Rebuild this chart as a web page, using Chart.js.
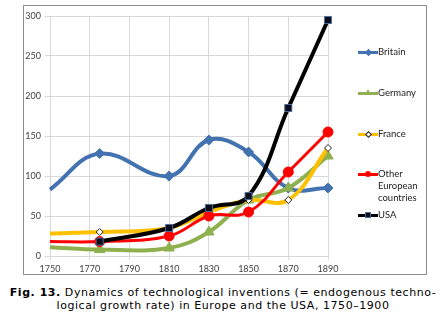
<!DOCTYPE html>
<html>
<head>
<meta charset="utf-8">
<script src="https://cdn.jsdelivr.net/npm/chart.js@4"></script>
<style>
  html, body { margin: 0; padding: 0; background: #fff; }
  body { width: 446px; height: 326px; position: relative; overflow: hidden; }
  #frame {
    position: absolute; left: 23px; top: 5px; width: 402px; height: 268px;
    border: 1px solid #8c8c8c;
  }
  #chart { display: block; }
  .legend { position: absolute; left: 334px; top: 0; font: 9.5px Lato, sans-serif; color: #222; }
  .legend .item { position: absolute; left: 0; white-space: nowrap; }
  .legend .swatch { position: absolute; left: 0; width: 20px; height: 3px; }
  .legend .mark { position: absolute; box-sizing: border-box; }
  .legend .label { position: absolute; left: 20px; line-height: 12px; }
  #caption {
    position: absolute; left: 0; top: 286px; width: 446px; text-align: center;
    font: 11px "DejaVu Sans", Verdana, sans-serif; letter-spacing: 0.55px; line-height: 13px; color: #000;
  }
</style>
</head>
<body>
<div id="frame">
  <canvas id="chart" width="402" height="268"></canvas>
  <div class="legend" id="legend"></div>
</div>
<div id="caption"><b>Fig. 13.</b> Dynamics of technological inventions (= endogenous techno-<br>logical growth rate) in Europe and the USA, 1750–1900</div>
<script>
// years with observations (1750 is the left edge, marker not shown)
const years = [1750, 1775, 1810, 1830, 1850, 1870, 1890];
const usaYears = [1775, 1810, 1830, 1850, 1870, 1890];

const britain = [83, 128, 100, 145, 130, 85, 85];
const germany = [11, 8, 10, 30, 70, 85, 125];
const france = [28, 30, 35, 55, 70, 70, 135];
const otherEurope = [18, 18, 25, 50, 55, 105, 155];
const usa = [18, 35, 60, 75, 185, 295];

const xTicks = [1750, 1770, 1790, 1810, 1830, 1850, 1870, 1890];
const yTicks = [0, 50, 100, 150, 200, 250, 300];

const byId = (id) => document.getElementById(id);

const toPoints = (xs, ys) => xs.map((x, i) => ({ x, y: ys[i] }));
// hide the marker on the 1750 edge point
const edgeRadius = (r) => years.map((y) => (y === 1750 ? 0 : r));

const series = [
  { label: "Britain", data: toPoints(years, britain), color: "#4372b0", width: 4, style: "rectRot", radius: edgeRadius(5), fill: "#4372b0", border: "#4372b0", order: 5 },
  { label: "Germany", data: toPoints(years, germany), color: "#8fb04f", width: 4, style: "triangle", radius: edgeRadius(6), fill: "#8fb04f", border: "#8fb04f", order: 4 },
  { label: "France", data: toPoints(years, france), color: "#ffc000", width: 4, style: "rectRot", radius: edgeRadius(3.5), fill: "#ffffff", border: "#222222", order: 3 },
  { label: "Other European countries", data: toPoints(years, otherEurope), color: "#ff0000", width: 3, style: "circle", radius: edgeRadius(5), fill: "#ff0000", border: "#ff0000", order: 2 },
  { label: "USA", data: toPoints(usaYears, usa), color: "#000000", width: 4, style: "rect", radius: 5, fill: "#0c0c1c", border: "#4f6d9a", order: 1 }
];

new Chart(byId("chart"), {
  type: "line",
  data: {
    datasets: series.map((s) => ({
      label: s.label,
      data: s.data,
      borderColor: s.color,
      borderWidth: s.width,
      tension: 0.4,
      pointStyle: s.style,
      pointRadius: s.radius,
      pointBackgroundColor: s.fill,
      pointBorderColor: s.border,
      pointBorderWidth: 1,
      order: s.order,
      clip: false
    }))
  },
  options: {
    responsive: false,
    animation: false,
    events: [],
    layout: { padding: { top: 10, right: 98, left: 0, bottom: 0 } },
    scales: {
      x: {
        type: "linear",
        min: 1750,
        max: 1890,
        afterBuildTicks: (axis) => { axis.ticks = xTicks.map((v) => ({ value: v })); },
        afterFit: (axis) => { axis.height = 18; },
        grid: { color: "#d9d9d9", tickLength: 4 },
        border: { color: "#d9d9d9" },
        ticks: { color: "#404040", font: { family: "Lato", size: 9 }, padding: 4, maxRotation: 0, callback: (v) => String(v) }
      },
      y: {
        min: 0,
        max: 300,
        afterBuildTicks: (axis) => { axis.ticks = yTicks.map((v) => ({ value: v })); },
        afterFit: (axis) => { axis.width = 26; },
        grid: { color: "#d9d9d9", tickLength: 5 },
        border: { color: "#d9d9d9" },
        ticks: { color: "#404040", font: { family: "Lato", size: 9 }, padding: 4 }
      }
    },
    plugins: { legend: { display: false }, tooltip: { enabled: false } }
  }
});

// legend on the right, one entry per series
const legendTops = [40, 81, 122, 162, 203];
const markCss = {
  rectRot: (s) => `width:5px;height:5px;transform:rotate(45deg);background:${s.fill};border:1px solid ${s.border};left:7.5px;top:-1px;`,
  triangle: (s) => `width:0;height:0;border-left:3.5px solid transparent;border-right:3.5px solid transparent;border-bottom:6px solid ${s.fill};left:6.5px;top:-2.5px;`,
  circle: (s) => `width:6px;height:6px;border-radius:50%;background:${s.fill};left:7px;top:-1.5px;`,
  rect: (s) => `width:6px;height:6px;background:${s.fill};border:1px solid ${s.border};left:7px;top:-1.5px;`
};
byId("legend").innerHTML = series.map((s, i) => {
  const words = s.label === "Other European countries" ? "Other<br>European<br>countries" : s.label;
  return `<div class="item" style="top:${legendTops[i]}px">
    <div class="swatch" style="top:4.5px;background:${s.color}"><div class="mark" style="${markCss[s.style](s)}"></div></div>
    <div class="label" style="top:0">${words}</div>
  </div>`;
}).join("");
</script>
</body>
</html>
